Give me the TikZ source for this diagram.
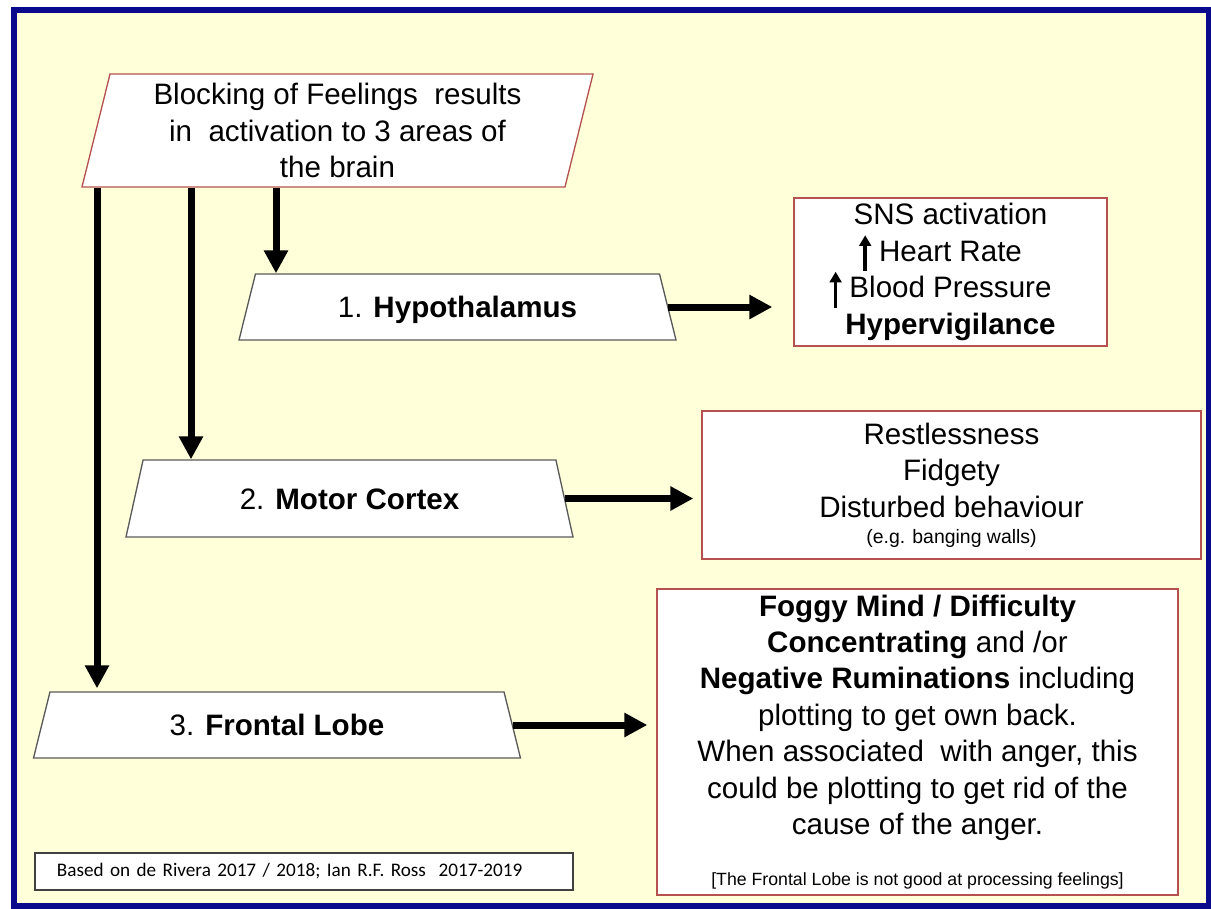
\documentclass[tikz,border=0pt]{standalone}
\usepackage{fontspec}
\setmainfont{Liberation Sans}
\newfontfamily\creditfont{Carlito}
\usetikzlibrary{arrows.meta, shapes.geometric}
\definecolor{paperCream}{HTML}{FFFFDA}
\definecolor{frameNavy}{HTML}{0A0A8C}
\definecolor{edgeRed}{HTML}{B5524F}
\definecolor{edgeGrey}{HTML}{5A5A5A}
\newdimen\px \px=0.3756pt
\newcommand{\mainsize}{\fontsize{11.1pt}{13.7pt}\selectfont}
\newcommand{\upar}{\smash{\tikz[baseline=0pt]\draw[line width=1.3pt, -{Triangle[length=4pt, width=4.4pt]}] (0,-3.7pt) -- (0,9.8pt);}}

\begin{document}
\begin{tikzpicture}[
    x=0.3756pt, y=-0.3756pt,
    para/.style={trapezium, trapezium left angle=76, trapezium right angle=104, trapezium stretches body, draw=edgeRed, fill=white, line width=0.5pt, align=center, font=\mainsize},
    trap/.style={trapezium, trapezium angle=76, trapezium stretches body, draw=edgeGrey, fill=white, line width=0.5pt, text height=8pt, text depth=0pt, inner ysep=8.4pt, font=\mainsize},
    box/.style={rectangle, draw=edgeRed, fill=white, line width=0.5pt, align=center, inner sep=0pt, font=\mainsize},
    arr/.style={-{Triangle[length=8.6pt, width=8.6pt]}, line width=7\px, black}
]
\useasboundingbox (0,0) rectangle (1211,908);
% frame
\draw[line width=6\px, draw=frameNavy, fill=paperCream] (13.5,9.5) rectangle (1209,906);

% brain areas
\node[para, minimum width=511\px, minimum height=113\px] (block) at (337.5,130.5) {Blocking of Feelings\ \ results\\in\ \ activation to 3 areas of\\the brain};
\node[trap, minimum width=437\px] (hypo) at (457.5,307) {1. \textbf{Hypothalamus}};
\node[trap, trapezium angle=77.5, inner ysep=10.46pt, minimum width=447\px] (motor) at (349.5,498.5) {2. \textbf{Motor Cortex}};
\node[trap, minimum width=487\px] (frontal) at (277,725) {3. \textbf{Frontal Lobe}};

% effects
\node[box, minimum width=313\px, minimum height=148\px] (sns) at (950.5,272) {SNS activation\\\llap{\upar\kern3pt}Heart Rate\\\llap{\upar\kern3pt}Blood Pressure\\\textbf{Hypervigilance}};
\node[box, minimum width=499\px, minimum height=148\px] (restless) at (951.5,485) {Restlessness\\Fidgety\\Disturbed behaviour\\[-3.8pt]{\fontsize{7.3pt}{8pt}\selectfont(e.g. banging walls)}};
\node[box, minimum width=521\px, minimum height=306\px] (foggy) at (917.5,742) {\textbf{Foggy Mind / Difficulty}\\\textbf{Concentrating} and /or\\\textbf{Negative Ruminations} including\\plotting to get own back.\\When associated\ \ with anger, this\\could be plotting to get rid of the\\cause of the anger.\\[5.4pt]{\fontsize{6.65pt}{8pt}\selectfont[The Frontal Lobe is not good at processing feelings]}};

% source
\node[rectangle, draw=black!75, fill=white, line width=0.5pt, text width=494\px, align=left, inner xsep=22\px, inner ysep=0pt, minimum height=37\px, font=\creditfont\fontsize{7.2pt}{9pt}\selectfont] (credit) at (304,871.5) {Based on de Rivera 2017 / 2018; Ian R.F. Ross\ \ 2017-2019};

\draw[arr] (block.south -| 276,0) -- (hypo.north -| 276,0);
\draw[arr] (block.south -| 191,0) -- (motor.north -| 191,0);
\draw[arr, shorten >=3\px] (block.south -| 97,0) -- (frontal.north -| 97,0);
\draw[arr, shorten >=21\px] (hypo.east) -- (hypo.east -| sns.west);
\draw[arr, shorten >=8\px] (motor.east) -- (motor.east -| restless.west);
\draw[arr, shorten >=9\px] (frontal.east) -- (frontal.east -| foggy.west);
\end{tikzpicture}
\end{document}
